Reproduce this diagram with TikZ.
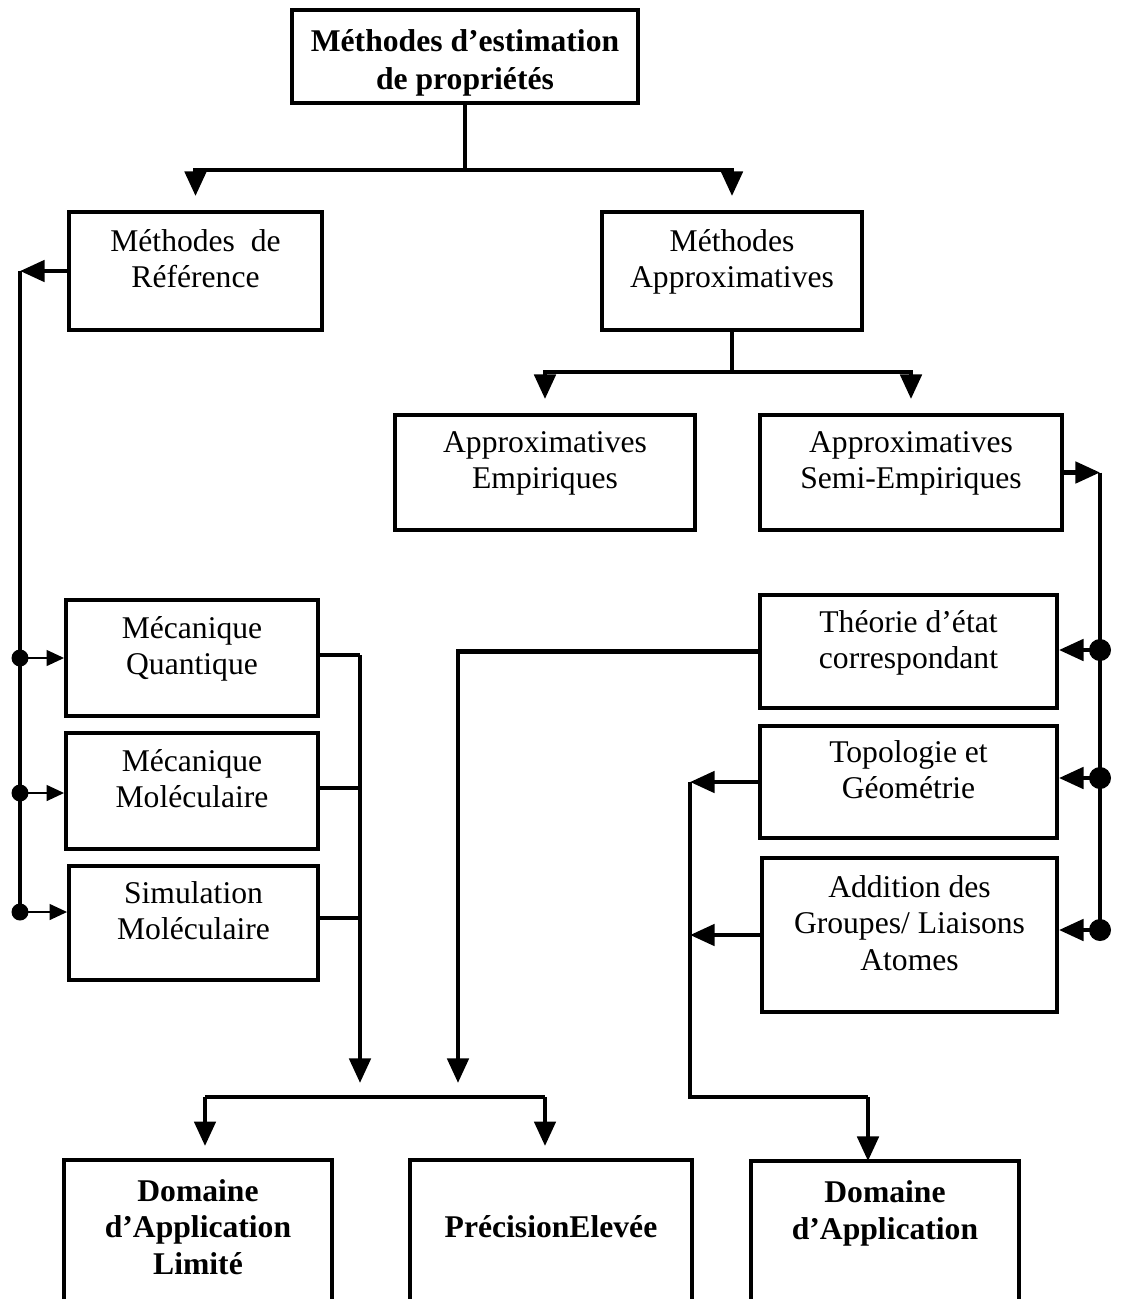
\documentclass[tikz,border=0pt]{standalone}
\usepackage{fontspec}
\setmainfont{Liberation Serif}
\usetikzlibrary{arrows.meta}
\begin{document}
\begin{tikzpicture}[x=0.02cm, y=-0.02cm,
  box/.style={draw, line width=2.2pt, align=center, inner sep=0pt,
    font=\fontsize{18}{20.7}\selectfont, text depth=14pt},
  bbox/.style={box, font=\fontsize{18}{20.7}\selectfont\bfseries},
  link/.style={line width=2.6pt},
  tip/.style={link, -{Triangle[length=14pt,width=12pt]}, shorten >=0.28cm},
  thin/.style={line width=1.2pt, -{Triangle[length=10pt,width=9pt]}},
  dot/.style={circle, fill, inner sep=0pt, minimum size=0.34cm},
  bigdot/.style={circle, fill, inner sep=0pt, minimum size=0.44cm}]
\useasboundingbox (0,0) rectangle (1120,1299);
\node[bbox, font=\fontsize{18}{21.6}\selectfont\bfseries, text depth=0pt, text height=38pt,
  minimum width=6.92cm, minimum height=1.86cm] (meth) at (465,56.5){M\'ethodes d'estimation\\de propri\'et\'es};
\node[box, minimum width=5.06cm, minimum height=2.36cm] (ref) at (195.5,271){M\'ethodes\ \ de\\R\'ef\'erence};
\node[box, minimum width=5.2cm, minimum height=2.36cm] (appr) at (732,271){M\'ethodes\\Approximatives};
\node[box, minimum width=6cm, minimum height=2.3cm] (emp) at (545,472.5){Approximatives\\Empiriques};
\node[box, minimum width=6.04cm, minimum height=2.3cm] (semi) at (911,472.5){Approximatives\\Semi-Empiriques};
\node[box, minimum width=5.94cm, minimum height=2.26cm] (theo) at (908.5,651.5){Th\'eorie d'\'etat\\correspondant};
\node[box, minimum width=5.94cm, minimum height=2.24cm] (topo) at (908.5,782){Topologie et\\G\'eom\'etrie};
\node[box, minimum width=5.9cm, minimum height=3.08cm] (addi) at (909.5,935){Addition des\\Groupes/ Liaisons\\Atomes};
\node[box, minimum width=5.04cm, minimum height=2.32cm] (mq) at (192,658){M\'ecanique\\Quantique};
\node[box, minimum width=5.04cm, minimum height=2.32cm] (mm) at (192,791){M\'ecanique\\Mol\'eculaire};
\node[box, minimum width=4.98cm, minimum height=2.28cm] (sim) at (193.5,923){Simulation\\Mol\'eculaire};
\node[bbox, draw=none, text depth=4pt, minimum width=5.28cm, minimum height=2.74cm] (lim) at (198,1230.5){Domaine\\d'Application\\Limit\'e};
\node[bbox, draw=none, text depth=4pt, minimum width=5.56cm, minimum height=2.74cm] (prec) at (551,1230.5){Pr\'ecisionElev\'ee};
\node[bbox, draw=none, text depth=24pt, minimum width=5.28cm, minimum height=2.72cm] (dom) at (885,1231){Domaine\\d'Application};
% bottom boxes are cut by the page edge
\draw[line width=2.2pt] (lim.south west) -- (lim.north west) -- (lim.north east) -- (lim.south east);
\draw[line width=2.2pt] (prec.south west) -- (prec.north west) -- (prec.north east) -- (prec.south east);
\draw[line width=2.2pt] (dom.south west) -- (dom.north west) -- (dom.north east) -- (dom.south east);
% junctions
\coordinate (j1) at (465,170);
\coordinate (j2) at (732,372);
\coordinate (rb) at (1100,472.5);
\coordinate (lb) at (20,271);
\coordinate (c1) at (360,1097);
\coordinate (c2) at (458,1097);
\coordinate (b1) at (205,1097);
\coordinate (b2) at (545,1097);
\coordinate (r1) at (690,782);
\coordinate (r2) at (690,1097);
\coordinate (b3) at (868,1097);
\node[dot] (ld1) at (20,658){};
\node[dot] (ld2) at (20,793){};
\node[dot] (ld3) at (20,912){};
\node[bigdot] (rd1) at (1100,650){};
\node[bigdot] (rd2) at (1100,778){};
\node[bigdot] (rd3) at (1100,930){};
\draw[link](meth.south) -- (j1);
\draw[tip](j1) -| (ref.north);
\draw[tip](j1) -| (appr.north);
\draw[link](appr.south) -- (j2);
\draw[tip](j2) -| (emp.north);
\draw[tip](j2) -| (semi.north);
\draw[tip, shorten >=0pt](semi.east) -- (rb);
\draw[link](rb) -- (rd3.center);
\draw[tip, shorten >=0pt](rd1.center) -- (rd1 -| theo.east);
\draw[tip, shorten >=0pt](rd2.center) -- (rd2 -| topo.east);
\draw[tip, shorten >=0pt](rd3.center) -- (rd3 -| addi.east);
\draw[tip, shorten >=0pt](ref.west) -- (lb);
\draw[link](lb) -- (ld3.center);
\draw[thin](ld1.center) -- (ld1 -| mq.west);
\draw[thin](ld2.center) -- (ld2 -| mm.west);
\draw[thin](ld3.center) -- (ld3 -| sim.west);
\draw[link](mq.east) ++(-3,-3) -- (360,655);
\draw[link](mm.east) ++(-3,-3) -- (360,788);
\draw[link](sim.east) ++(-3,-5) -- (360,918);
\draw[tip](360,655) -- (c1);
\draw[tip](theo.west) -| (c2);
\draw[link](b1) -- (b2);
\draw[tip](b1) -- (b1 |- lim.north);
\draw[tip](b2) -- (b2 |- prec.north);
\draw[tip, shorten >=0pt](topo.west) -- (r1);
\draw[tip, shorten >=0pt](addi.west) -- (r1 |- addi.west);
\draw[link](r1) -- (r2) -- (b3);
\draw[tip, shorten >=0pt](b3) -- (b3 |- dom.north);
\end{tikzpicture}
\end{document}
